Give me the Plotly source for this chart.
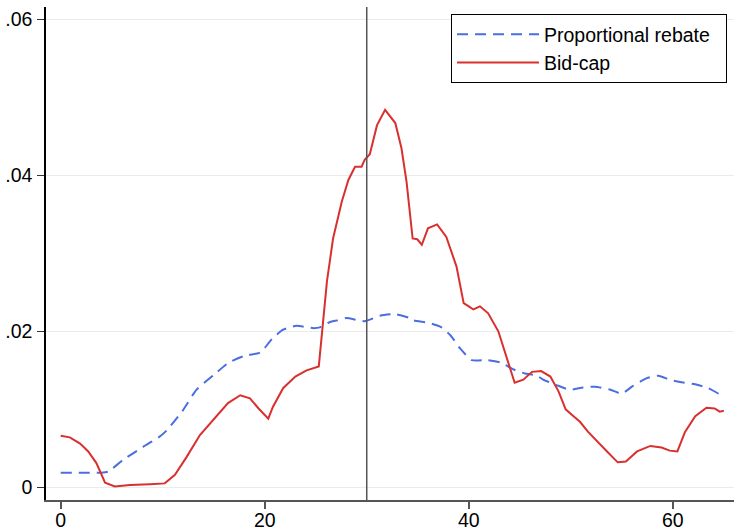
import plotly.graph_objects as go

# Proportional rebate (blue dashed)
blue_x = [0, 4.0, 4.65, 6.1, 8.1, 9.6, 10.4, 12.0, 13.3, 15.0, 16.5, 17.9, 19.4, 19.7, 20.7,
          21.8, 23.1, 24.8, 25.4, 26.4, 27.1, 28.0, 29.8, 31.3, 32.8, 34.2, 34.6, 36.0, 37.2, 38.2,
          39.15, 40.3, 41.8, 43.1, 44.4, 45.5, 46.7, 47.3, 48.6, 49.9, 51.2, 52.4, 53.9, 55.0, 56.1,
          57.45, 58.6, 59.7, 60.7, 62.2, 63.5, 65.0]
blue_y = [0.00187, 0.00187, 0.0020, 0.0035, 0.0052, 0.0064, 0.0073, 0.0099, 0.0125, 0.0144,
          0.0160, 0.0168, 0.0172, 0.0174, 0.0190, 0.0202, 0.0207, 0.0204, 0.0205, 0.0212,
          0.0214, 0.0217, 0.0213, 0.0220, 0.0222, 0.0217, 0.0214, 0.0211, 0.0206, 0.0195,
          0.0178, 0.0163, 0.0163, 0.0160, 0.0151, 0.0146, 0.0143, 0.0138, 0.0131, 0.0125,
          0.0128, 0.0129, 0.0125, 0.0120, 0.0130, 0.0140, 0.0143, 0.0138, 0.0135, 0.0132,
          0.0127, 0.0116]

# Bid-cap (red solid)
red_x = [0, 0.9, 1.9, 2.7, 3.5, 4.35, 5.3, 6.8, 8.75, 10.2, 11.2, 12.35, 13.65, 15.3, 16.4,
         17.6, 18.55, 19.4, 20.35, 20.8, 21.8, 23.0, 24.1, 25.3, 25.65, 26.1, 26.7, 27.55, 28.2,
         28.85, 29.5, 29.8, 30.3, 31.0, 31.8, 32.8, 33.4, 33.9, 34.5, 34.95, 35.4, 36.0, 36.9,
         37.8, 38.8, 39.5, 40.0, 40.45, 41.1, 41.9, 42.9, 43.7, 44.5, 45.35, 46.2, 47.1, 48.0,
         48.8, 49.5, 50.1, 50.9, 51.7, 52.7, 53.7, 54.6, 55.4, 56.5, 57.8, 58.9, 59.7, 60.45,
         61.2, 62.2, 63.3, 64.1, 64.6, 65.0]
red_y = [0.0066, 0.0064, 0.0056, 0.0046, 0.0031, 0.0006, 0.0001, 0.0003, 0.0004, 0.0005,
         0.0016, 0.0039, 0.0067, 0.0091, 0.0108, 0.0118, 0.0114, 0.0101, 0.0088, 0.0103,
         0.0127, 0.0142, 0.0150, 0.0155, 0.0204, 0.0264, 0.0319, 0.0366, 0.0394, 0.0411,
         0.0411, 0.0420, 0.0427, 0.0464, 0.0484, 0.0467, 0.0435, 0.0392, 0.0319, 0.0318,
         0.0311, 0.0332, 0.0337, 0.0321, 0.0283, 0.0236, 0.0232, 0.0228, 0.0232, 0.0223,
         0.0200, 0.0167, 0.0134, 0.0138, 0.0148, 0.0149, 0.0142, 0.0123, 0.0100, 0.0093,
         0.0084, 0.0071, 0.0057, 0.0044, 0.0032, 0.0033, 0.0046, 0.0053, 0.0051, 0.0047,
         0.0046, 0.0071, 0.0091, 0.0102, 0.0101, 0.0097, 0.0098]

x_ticks = [0, 20, 40, 60]
y_ticks = [0, 0.02, 0.04, 0.06]
y_ticktext = ["0", ".02", ".04", ".06"]
vline_x = 30
series_names = ["Proportional rebate", "Bid-cap"]

FONT = "Liberation Sans, Arial, Helvetica, sans-serif"
PAD = "\u00a0\u00a0"

fig = go.Figure()
fig.add_trace(go.Scatter(x=blue_x, y=blue_y, mode="lines", name=series_names[0] + PAD,
                         line=dict(color="#4a6ee0", width=2, dash="11px,7px", shape="spline",
                                   smoothing=0.5)))
fig.add_trace(go.Scatter(x=red_x, y=red_y, mode="lines", name=series_names[1],
                         line=dict(color="#d9302f", width=2)))

fig.add_vline(x=vline_x, line=dict(color="#555555", width=1.5))

fig.update_layout(
    width=734, height=528,
    margin=dict(l=46, r=0, t=7, b=28, autoexpand=False),
    paper_bgcolor="white", plot_bgcolor="white",
    font=dict(family=FONT, size=19.5, color="black"),
    showlegend=True,
    legend=dict(x=0.5887, y=0.9858, xanchor="left", yanchor="top",
                bgcolor="white", bordercolor="black", borderwidth=1,
                font=dict(family=FONT, size=19.5, color="black"),
                itemwidth=82, tracegroupgap=0),
    xaxis=dict(range=[-1.44, 66.0], showline=True, linecolor="#555555", linewidth=1.5,
               ticks="outside", ticklen=7, tickwidth=1.5, tickcolor="#555555",
               tickvals=x_ticks, showgrid=False, zeroline=False, automargin=False,
               ticklabelstandoff=-5,
               tickfont=dict(family=FONT, size=19.5, color="black")),
    yaxis=dict(range=[-0.00163, 0.06158], showline=True, linecolor="black", linewidth=1.5,
               ticks="outside", ticklen=7, tickwidth=1, tickcolor="#333333",
               tickvals=y_ticks, ticktext=y_ticktext, showgrid=True, automargin=False,
               gridcolor="#ebebeb", gridwidth=1, zeroline=False, ticklabelstandoff=1,
               tickfont=dict(family=FONT, size=19.5, color="black")),
)

fig.write_html("out.html", config={"displayModeBar": False},
               post_script="document.body.style.margin='0';document.body.style.overflow='hidden';")
